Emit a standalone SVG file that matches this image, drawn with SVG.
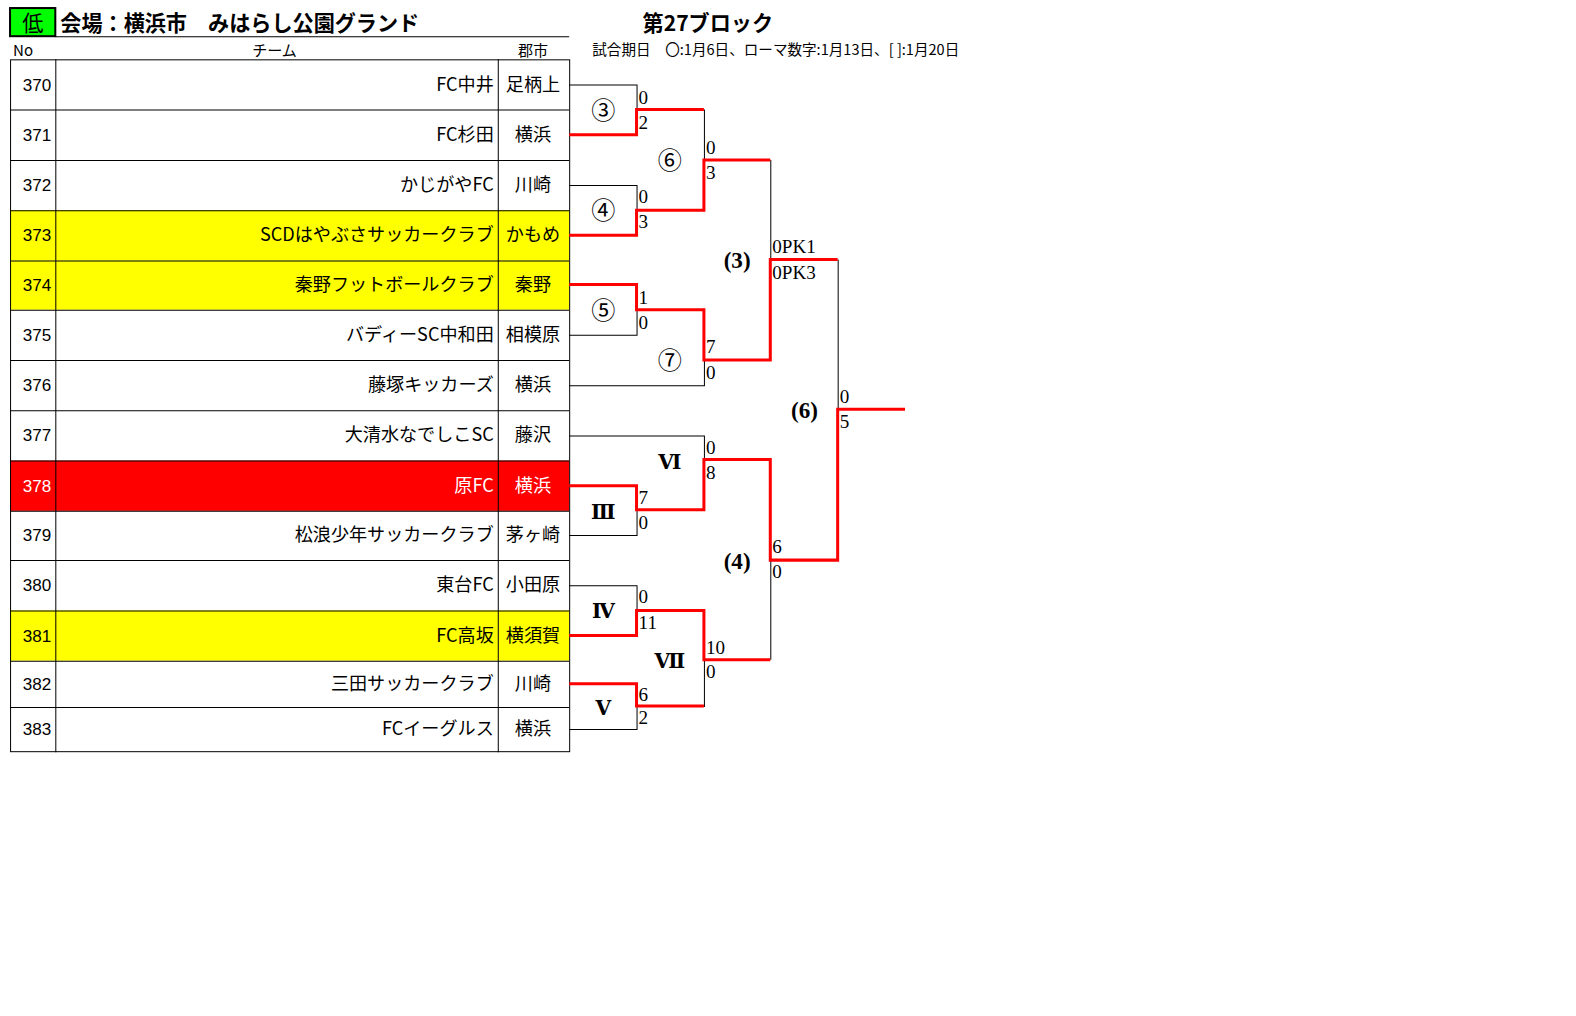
<svg xmlns="http://www.w3.org/2000/svg" width="1576" height="1016" viewBox="0 0 1576 1016">
<style>
.no{font-family:"Liberation Sans","Noto Sans CJK JP",sans-serif;font-size:17px;text-anchor:end;fill:#000}
.tm{font-family:"Noto Sans CJK JP","Liberation Sans",sans-serif;font-size:18px;text-anchor:end;fill:#000}
.ct{font-family:"Noto Sans CJK JP","Liberation Sans",sans-serif;font-size:18px;text-anchor:middle;fill:#000}
.w{fill:#fff}
.hd{font-family:"Noto Sans CJK JP","Liberation Sans",sans-serif;font-size:15px;fill:#000}
.ttl{font-family:"Noto Sans CJK JP","Liberation Sans",sans-serif;font-size:21px;font-weight:bold;fill:#000}
.sc{font-family:"Liberation Serif","DejaVu Serif",serif;font-size:19px;fill:#000}
.mc{font-family:"Noto Sans CJK JP","DejaVu Sans",serif;font-size:24px;text-anchor:middle;fill:#000}
.rm{font-family:"DejaVu Serif","Liberation Serif","Noto Sans CJK JP",serif;font-size:20px;font-weight:bold;text-anchor:middle;fill:#000}
.pr{font-family:"Liberation Serif","DejaVu Serif",serif;font-size:23px;font-weight:bold;text-anchor:middle;fill:#000}
.bk{fill:none;stroke:#000;stroke-width:1}
.rd{fill:none;stroke:#ff0000;stroke-width:3}
.grid{stroke:#000;stroke-width:1}
</style>
<rect width="1576" height="1016" fill="#fff"/>
<g transform="scale(1.0056)">
<g id="header">
<rect x="10" y="8" width="45" height="28" fill="#00ff00" stroke="#000" stroke-width="2"/>
<text x="32.5" y="31" class="ttl" text-anchor="middle" style="font-weight:normal">低</text>
<text x="60" y="31" class="ttl">会場：横浜市　みはらし公園グランド</text>
<line x1="55" y1="36.5" x2="566" y2="36.5" class="grid"/>
<text x="639" y="31" class="ttl">第27ブロック</text>
<text x="589" y="55" class="hd" style="font-size:14.5px">試合期日　〇:1月6日、ローマ数字:1月13日、[ ]:1月20日</text>
<text x="13" y="56" class="hd">No</text>
<text x="273" y="56" class="hd" text-anchor="middle">チーム</text>
<text x="530" y="56" class="hd" text-anchor="middle">郡市</text>
</g>
<g id="table">
<rect x="10" y="209" width="556" height="50" fill="#ffff00"/>
<rect x="10" y="259" width="556" height="49" fill="#ffff00"/>
<rect x="10" y="458" width="556" height="50" fill="#ff0000"/>
<rect x="10" y="607" width="556" height="50" fill="#ffff00"/>
<rect x="10.5" y="59.5" width="556" height="688" fill="none" stroke="#000"/>
<line x1="55.5" y1="59" x2="55.5" y2="748" class="grid"/>
<line x1="495.5" y1="59" x2="495.5" y2="748" class="grid"/>
<g class="grid">
<line x1="10" y1="109.5" x2="566" y2="109.5"/>
<line x1="10" y1="159.5" x2="566" y2="159.5"/>
<line x1="10" y1="209.5" x2="566" y2="209.5"/>
<line x1="10" y1="259.5" x2="566" y2="259.5"/>
<line x1="10" y1="308.5" x2="566" y2="308.5"/>
<line x1="10" y1="358.5" x2="566" y2="358.5"/>
<line x1="10" y1="408.5" x2="566" y2="408.5"/>
<line x1="10" y1="458.5" x2="566" y2="458.5"/>
<line x1="10" y1="508.5" x2="566" y2="508.5"/>
<line x1="10" y1="557.5" x2="566" y2="557.5"/>
<line x1="10" y1="607.5" x2="566" y2="607.5"/>
<line x1="10" y1="657.5" x2="566" y2="657.5"/>
<line x1="10" y1="703.5" x2="566" y2="703.5"/>
</g>
</g>
<g id="team-370"><text x="51" y="90" class="no">370</text><text x="491" y="90" class="tm">FC中井</text><text x="530" y="90" class="ct">足柄上</text></g>
<g id="team-371"><text x="51" y="140" class="no">371</text><text x="491" y="140" class="tm">FC杉田</text><text x="530" y="140" class="ct">横浜</text></g>
<g id="team-372"><text x="51" y="190" class="no">372</text><text x="491" y="190" class="tm">かじがやFC</text><text x="530" y="190" class="ct">川崎</text></g>
<g id="team-373"><text x="51" y="240" class="no">373</text><text x="491" y="240" class="tm">SCDはやぶさサッカークラブ</text><text x="530" y="240" class="ct">かもめ</text></g>
<g id="team-374"><text x="51" y="289" class="no">374</text><text x="491" y="289" class="tm">秦野フットボールクラブ</text><text x="530" y="289" class="ct">秦野</text></g>
<g id="team-375"><text x="51" y="339" class="no">375</text><text x="491" y="339" class="tm">バディーSC中和田</text><text x="530" y="339" class="ct">相模原</text></g>
<g id="team-376"><text x="51" y="389" class="no">376</text><text x="491" y="389" class="tm">藤塚キッカーズ</text><text x="530" y="389" class="ct">横浜</text></g>
<g id="team-377"><text x="51" y="439" class="no">377</text><text x="491" y="439" class="tm">大清水なでしこSC</text><text x="530" y="439" class="ct">藤沢</text></g>
<g id="team-378"><text x="51" y="489" class="no w">378</text><text x="491" y="489" class="tm w">原FC</text><text x="530" y="489" class="ct w">横浜</text></g>
<g id="team-379"><text x="51" y="538" class="no">379</text><text x="491" y="538" class="tm">松浪少年サッカークラブ</text><text x="530" y="538" class="ct">茅ヶ崎</text></g>
<g id="team-380"><text x="51" y="588" class="no">380</text><text x="491" y="588" class="tm">東台FC</text><text x="530" y="588" class="ct">小田原</text></g>
<g id="team-381"><text x="51" y="638" class="no">381</text><text x="491" y="638" class="tm">FC高坂</text><text x="530" y="638" class="ct">横須賀</text></g>
<g id="team-382"><text x="51" y="686" class="no">382</text><text x="491" y="686" class="tm">三田サッカークラブ</text><text x="530" y="686" class="ct">川崎</text></g>
<g id="team-383"><text x="51" y="731" class="no">383</text><text x="491" y="731" class="tm">FCイーグルス</text><text x="530" y="731" class="ct">横浜</text></g>
<g id="connectors">
<path class="bk" d="M566,84.5 H633.5 V109 M566,184.5 H633.5 V209 M566,333.5 H633.5 V308 M566,383.5 H700.5 V358 M700.5,109 V159 M766.5,159 V258 M566,433.5 H700.5 V457 M566,532.5 H633.5 V507 M566,582.5 H633.5 V607 M566,725.5 H633.5 V703 M700.5,703 V656 M766.5,656 V557 M833.5,258 V407"/>
<path class="rd" d="M566,134 H633 V109 H700"/>
<path class="rd" d="M566,234 H633 V209 H700 V159 H766"/>
<path class="rd" d="M566,283 H633 V308 H700 V358 H766 V258 H833"/>
<path class="rd" d="M566,483 H633 V507 H700 V457 H766 V557 H833 V407 H900"/>
<path class="rd" d="M566,632 H633 V607 H700 V656 H766"/>
<path class="rd" d="M566,680 H633 V702 H700"/>
</g>
<g id="match-3c"><text x="600" y="118" class="mc">③</text><text x="635" y="103" class="sc">0</text><text x="635" y="128" class="sc">2</text></g>
<g id="match-4c"><text x="600" y="218" class="mc">④</text><text x="635" y="202" class="sc">0</text><text x="635" y="227" class="sc">3</text></g>
<g id="match-5c"><text x="600" y="317" class="mc">⑤</text><text x="635" y="302" class="sc">1</text><text x="635" y="327" class="sc">0</text></g>
<g id="match-6c"><text x="666" y="168" class="mc">⑥</text><text x="702" y="153" class="sc">0</text><text x="702" y="178" class="sc">3</text></g>
<g id="match-7c"><text x="666" y="367" class="mc">⑦</text><text x="702" y="351" class="sc">7</text><text x="702" y="377" class="sc">0</text></g>
<g id="match-p3"><text x="733" y="267" class="pr">(3)</text><text x="768" y="252" class="sc">0PK1</text><text x="768" y="277" class="sc">0PK3</text></g>
<g id="match-III"><text x="600" y="516" class="rm">Ⅲ</text><text x="635" y="501" class="sc">7</text><text x="635" y="526" class="sc">0</text></g>
<g id="match-VI"><text x="666" y="466" class="rm">Ⅵ</text><text x="702" y="451" class="sc">0</text><text x="702" y="476" class="sc">8</text></g>
<g id="match-IV"><text x="600" y="615" class="rm">Ⅳ</text><text x="635" y="600" class="sc">0</text><text x="635" y="625" class="sc">11</text></g>
<g id="match-V"><text x="600" y="711" class="rm">Ⅴ</text><text x="635" y="697" class="sc">6</text><text x="635" y="720" class="sc">2</text></g>
<g id="match-VII"><text x="666" y="664" class="rm">Ⅶ</text><text x="702" y="650" class="sc">10</text><text x="702" y="674" class="sc">0</text></g>
<g id="match-p4"><text x="733" y="566" class="pr">(4)</text><text x="768" y="550" class="sc">6</text><text x="768" y="575" class="sc">0</text></g>
<g id="match-p6"><text x="800" y="416" class="pr">(6)</text><text x="835" y="401" class="sc">0</text><text x="835" y="426" class="sc">5</text></g>
</g>
</svg>
